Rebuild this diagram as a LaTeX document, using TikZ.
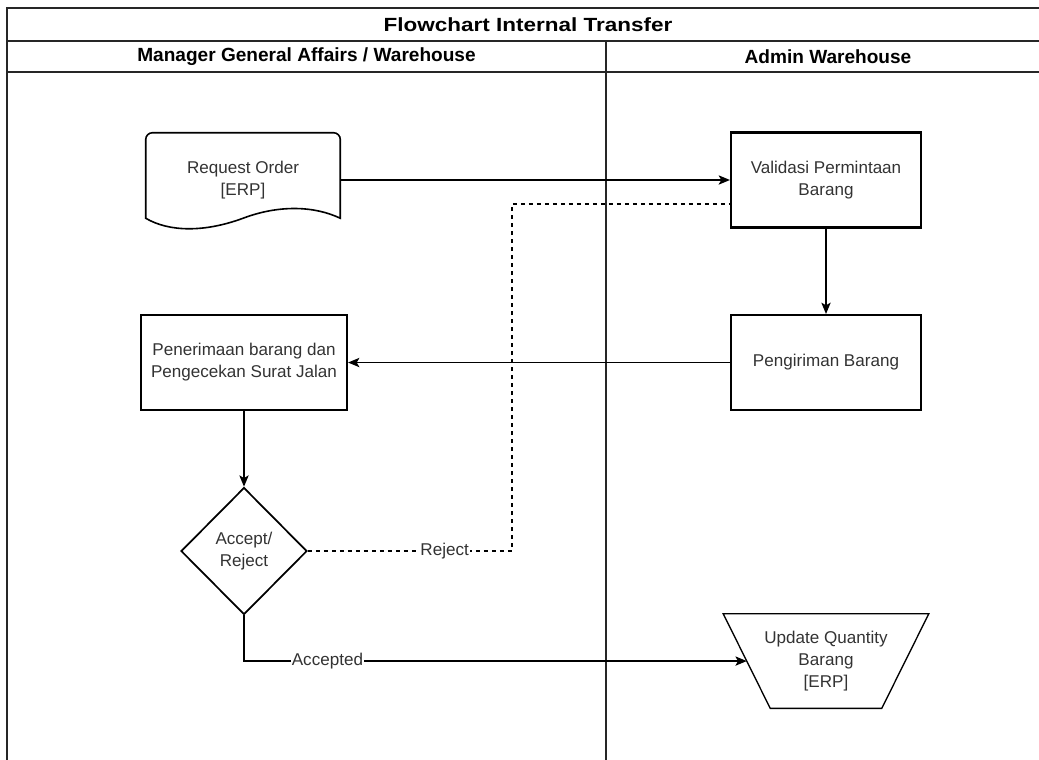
\documentclass[tikz,border=0pt]{standalone}
\usepackage{fontspec}
\setmainfont{Liberation Sans}
\newfontfamily\titlefont[FakeStretch=1.18]{Liberation Sans}
\usetikzlibrary{positioning,shapes.geometric,arrows.meta}

\begin{document}
\begin{tikzpicture}[x=0.75pt,y=-0.75pt,on grid,
font=\fontsize{12.8}{16.5}\selectfont,text=black!80,
flow/.style={-{Stealth[length=8.5pt,width=7pt,inset=2pt]},line width=0.9pt},
lane/.style={line width=1.3pt,draw=black!85},
proc/.style={rectangle,draw,line width=1.6pt,minimum width=142.5pt,minimum height=71.25pt,align=center},
lbl/.style={fill=white,inner sep=1pt}]
\useasboundingbox (0,0) rectangle (1039,760);

% swimlanes
\draw[lane] (7,760) -- (7,8) -- (1039,8);
\draw[lane] (7,41) -- (1039,41);
\draw[lane] (7,72) -- (1039,72);
\draw[lane] (606,41) -- (606,760);
\node (title) at (528,24.5) {\titlefont\fontsize{14.3}{16}\selectfont\bfseries\color{black} Flowchart Internal Transfer};
\node (mgr) at (306.5,56.5) {\fontsize{14.3}{16}\selectfont\bfseries\color{black} Manager General Affairs / Warehouse};
\node (adm) at (828,56.5) {\fontsize{14.3}{16}\selectfont\bfseries\color{black} Admin Warehouse};

% steps
\node[minimum width=145.5pt,minimum height=70.5pt,align=center] (req) at (243,180) {Request Order\\{[ERP]}};
\draw[line width=1.2pt] ([yshift=6.75pt]req.south west) [rounded corners=5pt] -- (req.north west)
  -- (req.north east) [sharp corners] -- ([yshift=6.75pt]req.south east)
  .. controls +(-25,-12) and +(37,-14) .. ([yshift=6.75pt]req.south)
  .. controls +(-38,14) and +(24,14) .. cycle;
\node[proc] (val) [right=437.25pt of req] {Validasi Permintaan\\Barang};
\node[proc] (peng) [below=136.9pt of val] {Pengiriman Barang};
\node[proc,minimum width=154.5pt] (pen) [left=436.5pt of peng] {Penerimaan barang dan\\Pengecekan Surat Jalan};
\node[diamond,draw,line width=1.3pt,minimum width=94.5pt,minimum height=95.25pt,inner sep=1pt,align=center] (dec) [below=141.4pt of pen] {Accept/\\Reject};
\node[minimum width=153.75pt,minimum height=70.5pt,inner sep=1pt,align=center] (upd) [below=223.9pt of peng] {Update Quantity\\Barang\\{[ERP]}};
\draw[line width=1pt] (upd.north west) -- (upd.north east) -- ([xshift=-35.25pt]upd.south east)
  -- ([xshift=35.25pt]upd.south west) -- cycle;

% connectors
\coordinate (rj) at (512,204);
\draw[flow] (req.east) -- (val.west);
\draw[flow] (val.south) -- (peng.north);
\draw[flow] (peng.west) -- (pen.east);
\draw[flow] (pen.south) -- (dec.north);
\draw[dashed,line width=0.9pt] (dec.east) -- node[lbl,pos=0.67] {Reject} (dec.east -| rj) -- (rj) -- (rj -| val.west);
\draw[flow] (dec.south) |- node[lbl,pos=0.583] {Accepted} ([xshift=17.6pt]upd.west);
\end{tikzpicture}
\end{document}
